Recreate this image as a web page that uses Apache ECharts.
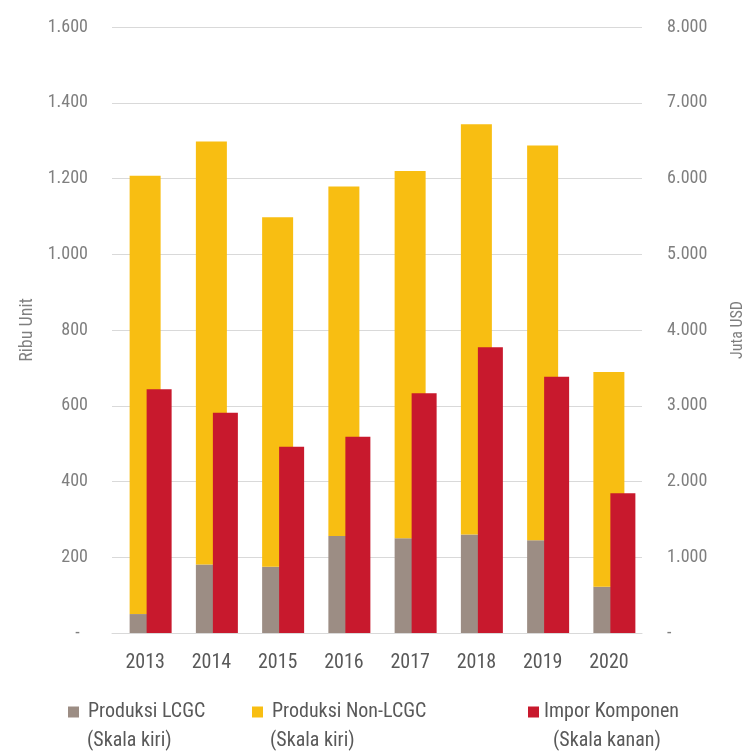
<!DOCTYPE html>
<html>
<head>
<meta charset="utf-8">
<script src="https://cdn.jsdelivr.net/npm/echarts@6/dist/echarts.min.js"></script>
<style>
html,body{margin:0;padding:0;background:#fff;}
#chart{width:754px;height:753px;}
</style>
</head>
<body>
<div id="chart"></div>
<script>
var categories = ['2013','2014','2015','2016','2017','2018','2019','2020'];
var produksiLCGC = [50, 181, 175, 256, 250, 260, 245, 122];
var produksiNonLCGC = [1157, 1117, 923, 923, 970, 1083, 1042, 567];
var imporKomponen = [3217, 2908, 2459, 2591, 3164, 3771, 3383, 1844];
var leftTicks = {min: 0, max: 1600, interval: 200};
var rightTicks = {min: 0, max: 8000, interval: 1000};

var FONT = '"Roboto Condensed","Liberation Sans Narrow","DejaVu Sans Condensed",Roboto,sans-serif';

function fmt(v, zero) {
  if (v === 0) return zero;
  return String(v).replace(/\B(?=(\d{3})+(?!\d))/g, '.');
}

var chart = echarts.init(document.getElementById('chart'), null, {renderer: 'canvas'});
var option = {
  backgroundColor: '#ffffff',
  animation: false,
  textStyle: {fontFamily: FONT},
  grid: {left: 112, right: 104, top: 27, bottom: 120, containLabel: false},
  xAxis: [{
    type: 'category',
    data: categories,
    axisLine: {show: true, lineStyle: {color: '#d9d9d9', width: 1}},
    axisTick: {show: false},
    axisLabel: {color: '#595959', fontSize: 20, margin: 20, fontFamily: FONT}
  }, {
    type: 'category',
    data: categories,
    show: false
  }],
  yAxis: [{
    type: 'value',
    min: leftTicks.min, max: leftTicks.max, interval: leftTicks.interval,
    name: 'Ribu Unit',
    nameLocation: 'middle',
    nameGap: 76,
    nameTextStyle: {color: '#7f7f7f', fontSize: 18, fontFamily: FONT},
    axisLine: {show: false},
    axisTick: {show: false},
    axisLabel: {color: '#7f7f7f', fontSize: 18, margin: 24, fontFamily: FONT,
      formatter: function (v) { return fmt(v, '-  '); }},
    splitLine: {show: true, lineStyle: {color: '#d9d9d9', width: 1}}
  }, {
    type: 'value',
    min: rightTicks.min, max: rightTicks.max, interval: rightTicks.interval,
    name: 'Juta USD',
    nameLocation: 'middle',
    nameGap: 88,
    nameTextStyle: {color: '#7f7f7f', fontSize: 16, fontFamily: FONT},
    axisLine: {show: false},
    axisTick: {show: false},
    axisLabel: {color: '#7f7f7f', fontSize: 18, margin: 25, fontFamily: FONT,
      formatter: function (v) { return fmt(v, '-'); }},
    splitLine: {show: false}
  }],
  legend: [{
    data: ['Produksi LCGC'],
    left: 68, top: 702, padding: 0,
    itemWidth: 11, itemHeight: 11,
    icon: 'rect',
    textStyle: {color: '#595959', fontSize: 20, fontFamily: FONT, padding: [0, 0, 0, 4]}
  }, {
    data: ['Produksi Non-LCGC'],
    left: 252, top: 702, padding: 0,
    itemWidth: 11, itemHeight: 11,
    icon: 'rect',
    textStyle: {color: '#595959', fontSize: 20, fontFamily: FONT, padding: [0, 0, 0, 4]}
  }, {
    data: ['Impor Komponen'],
    left: 528, top: 702, padding: 0,
    itemWidth: 11, itemHeight: 11,
    icon: 'rect',
    textStyle: {color: '#595959', fontSize: 20, fontFamily: FONT, padding: [0, 0, 0, 0]}
  }],
  graphic: [
    {type: 'text', left: 87, top: 731, style: {text: '(Skala kiri)', fill: '#595959', font: '20px ' + FONT}},
    {type: 'text', left: 270, top: 731, style: {text: '(Skala kiri)', fill: '#595959', font: '20px ' + FONT}},
    {type: 'text', left: 553, top: 731, style: {text: '(Skala kanan)', fill: '#595959', font: '20px ' + FONT}}
  ],
  series: [{
    name: 'Produksi LCGC',
    type: 'bar',
    stack: 'produksi',
    xAxisIndex: 0, yAxisIndex: 0,
    barWidth: 31,
    itemStyle: {color: '#9c8d84'},
    data: produksiLCGC
  }, {
    name: 'Produksi Non-LCGC',
    type: 'bar',
    stack: 'produksi',
    xAxisIndex: 0, yAxisIndex: 0,
    barWidth: 31,
    itemStyle: {color: '#f8be12'},
    data: produksiNonLCGC
  }, {
    name: 'spacer',
    type: 'bar',
    xAxisIndex: 1, yAxisIndex: 1,
    barWidth: 28,
    barGap: 0,
    data: categories.map(function () { return '-'; })
  }, {
    name: 'Impor Komponen',
    type: 'bar',
    xAxisIndex: 1, yAxisIndex: 1,
    barWidth: 25,
    barGap: 0,
    itemStyle: {color: '#c8192d'},
    data: imporKomponen
  }]
};
chart.setOption(option);
</script>
</body>
</html>
